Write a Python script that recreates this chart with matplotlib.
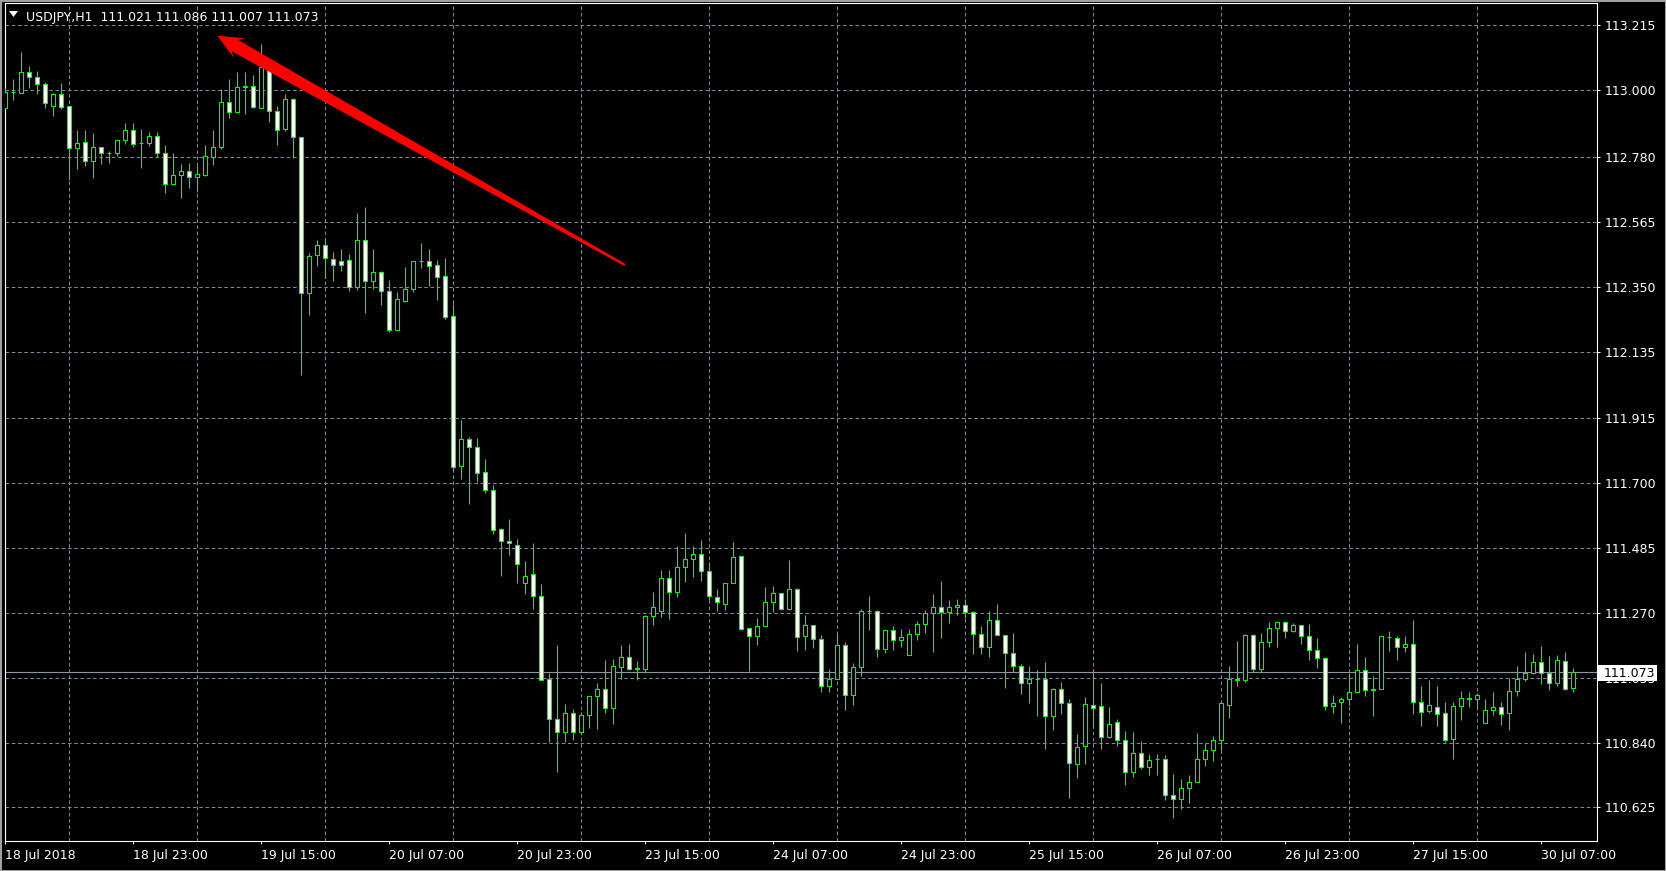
import matplotlib
matplotlib.use("Agg")
import matplotlib.pyplot as plt
import numpy as np
from matplotlib.patches import Polygon, Rectangle

# USDJPY H1 candles, 18 Jul 07:00 .. 30 Jul 11:00
opens = [112.941, 112.994, 112.990, 113.062, 113.043, 113.020, 112.950, 112.987, 112.947, 112.808,
         112.828, 112.765, 112.812, 112.794, 112.794, 112.835, 112.868, 112.825, 112.827, 112.848,
         112.792, 112.689, 112.719, 112.734, 112.712, 112.721, 112.778, 112.812, 112.963, 112.927,
         113.010, 113.014, 112.941, 113.067, 112.932, 112.872, 112.970, 112.847, 112.329, 112.456,
         112.487, 112.442, 112.434, 112.437, 112.350, 112.503, 112.370, 112.397, 112.335, 112.208,
         112.303, 112.341, 112.434, 112.434, 112.423, 112.384, 112.254, 111.757, 111.847, 111.820,
         111.735, 111.676, 111.546, 111.506, 111.496, 111.370, 111.398, 111.324, 111.049, 110.917,
         110.876, 110.937, 110.876, 110.930, 110.995, 111.016, 110.955, 111.089, 111.125, 111.085,
         111.085, 111.258, 111.277, 111.384, 111.340, 111.420, 111.447, 111.466, 111.407, 111.323,
         111.300, 111.367, 111.457, 111.218, 111.194, 111.225, 111.304, 111.334, 111.282, 111.347,
         111.194, 111.228, 111.184, 111.029, 111.050, 111.162, 110.997, 111.090, 111.275, 111.275,
         111.149, 111.212, 111.179, 111.131, 111.199, 111.232, 111.268, 111.288, 111.272, 111.288,
         111.295, 111.272, 111.199, 111.156, 111.245, 111.195, 111.136, 111.093, 111.037, 111.049,
         111.050, 110.927, 111.017, 110.970, 110.768, 110.827, 110.966, 110.960, 110.860, 110.907,
         110.850, 110.741, 110.807, 110.758, 110.785, 110.787, 110.665, 110.654, 110.688, 110.708,
         110.787, 110.817, 110.850, 110.966, 111.048, 111.046, 111.195, 111.084, 111.172, 111.220,
         111.238, 111.211, 111.231, 111.192, 111.148, 111.119, 110.960, 110.973, 110.983, 111.006,
         111.082, 111.019, 111.019, 111.189, 111.188, 111.155, 111.165, 110.973, 110.943, 110.957,
         110.937, 110.851, 110.960, 110.985, 110.985, 110.904, 110.947, 110.957, 110.937, 111.010,
         111.049, 111.072, 111.106, 111.072, 111.036, 111.109, 111.021]
highs = [113.007, 113.038, 113.126, 113.081, 113.064, 113.027, 112.993, 113.026, 112.947, 112.869,
         112.869, 112.859, 112.812, 112.799, 112.835, 112.892, 112.891, 112.872, 112.861, 112.861,
         112.818, 112.792, 112.756, 112.759, 112.752, 112.818, 112.869, 113.004, 113.037, 113.060,
         113.060, 113.050, 113.154, 113.090, 112.948, 112.988, 112.974, 112.847, 112.460, 112.503,
         112.511, 112.466, 112.475, 112.457, 112.593, 112.614, 112.475, 112.402, 112.372, 112.333,
         112.415, 112.434, 112.495, 112.475, 112.439, 112.445, 112.291, 111.908, 111.851, 111.849,
         111.778, 111.693, 111.550, 111.580, 111.513, 111.440, 111.501, 111.365, 111.071, 111.163,
         110.967, 110.951, 110.941, 110.993, 111.037, 111.113, 111.117, 111.163, 111.166, 111.110,
         111.261, 111.338, 111.411, 111.413, 111.491, 111.534, 111.491, 111.511, 111.437, 111.348,
         111.367, 111.504, 111.457, 111.221, 111.252, 111.354, 111.358, 111.334, 111.444, 111.352,
         111.262, 111.228, 111.195, 111.084, 111.200, 111.173, 111.104, 111.283, 111.326, 111.279,
         111.212, 111.226, 111.216, 111.216, 111.242, 111.278, 111.332, 111.375, 111.313, 111.315,
         111.315, 111.275, 111.226, 111.275, 111.299, 111.195, 111.203, 111.099, 111.093, 111.080,
         111.107, 111.021, 111.041, 110.984, 110.869, 110.991, 111.079, 111.037, 110.957, 110.918,
         110.878, 110.874, 110.845, 110.802, 110.803, 110.799, 110.736, 110.719, 110.731, 110.871,
         110.838, 110.861, 110.970, 111.095, 111.175, 111.198, 111.201, 111.203, 111.238, 111.238,
         111.241, 111.235, 111.231, 111.232, 111.188, 111.122, 110.996, 110.991, 111.069, 111.166,
         111.123, 111.062, 111.192, 111.208, 111.193, 111.192, 111.245, 111.026, 111.046, 111.026,
         110.976, 110.976, 111.011, 111.006, 111.005, 110.983, 111.006, 110.976, 111.053, 111.092,
         111.139, 111.135, 111.159, 111.127, 111.129, 111.140, 111.086]
lows = [112.938, 112.968, 112.990, 113.009, 112.987, 112.943, 112.916, 112.938, 112.703, 112.740,
        112.750, 112.711, 112.757, 112.759, 112.784, 112.824, 112.814, 112.744, 112.816, 112.778,
        112.661, 112.686, 112.642, 112.678, 112.662, 112.717, 112.754, 112.807, 112.910, 112.924,
        112.921, 112.941, 112.941, 112.894, 112.819, 112.867, 112.777, 112.058, 112.257, 112.419,
        112.379, 112.369, 112.402, 112.335, 112.338, 112.262, 112.341, 112.289, 112.200, 112.208,
        112.300, 112.333, 112.412, 112.352, 112.306, 112.243, 111.740, 111.712, 111.631, 111.703,
        111.667, 111.532, 111.393, 111.462, 111.369, 111.333, 111.283, 111.046, 110.843, 110.743,
        110.843, 110.848, 110.873, 110.888, 110.886, 110.939, 110.902, 111.051, 111.081, 111.048,
        111.073, 111.229, 111.257, 111.249, 111.322, 111.373, 111.389, 111.376, 111.312, 111.277,
        111.280, 111.367, 111.213, 111.078, 111.163, 111.225, 111.273, 111.280, 111.279, 111.143,
        111.146, 111.154, 111.006, 111.006, 111.050, 110.949, 110.966, 111.062, 111.214, 111.122,
        111.138, 111.145, 111.156, 111.131, 111.180, 111.204, 111.141, 111.188, 111.237, 111.263,
        111.251, 111.135, 111.135, 111.122, 111.195, 111.022, 111.073, 111.002, 110.972, 110.929,
        110.820, 110.883, 110.933, 110.655, 110.724, 110.770, 110.892, 110.820, 110.854, 110.829,
        110.700, 110.727, 110.754, 110.733, 110.733, 110.649, 110.590, 110.620, 110.640, 110.708,
        110.763, 110.780, 110.814, 110.923, 111.028, 111.039, 111.075, 111.075, 111.158, 111.158,
        111.185, 111.207, 111.168, 111.115, 111.088, 110.949, 110.939, 110.906, 110.966, 111.006,
        110.995, 110.929, 111.019, 111.144, 111.115, 111.141, 110.933, 110.896, 110.937, 110.896,
        110.841, 110.787, 110.916, 110.957, 110.951, 110.904, 110.932, 110.899, 110.880, 110.995,
        111.045, 111.066, 111.033, 111.013, 111.029, 111.013, 111.007]
closes = [112.994, 112.995, 113.060, 113.043, 113.020, 112.957, 112.987, 112.946, 112.808, 112.825,
          112.765, 112.812, 112.792, 112.794, 112.835, 112.868, 112.824, 112.825, 112.848, 112.792,
          112.689, 112.719, 112.732, 112.712, 112.722, 112.782, 112.814, 112.963, 112.927, 113.010,
          113.014, 112.944, 113.076, 112.932, 112.869, 112.970, 112.847, 112.329, 112.453, 112.487,
          112.446, 112.423, 112.423, 112.350, 112.503, 112.370, 112.397, 112.335, 112.208, 112.308,
          112.341, 112.434, 112.435, 112.420, 112.383, 112.251, 111.754, 111.847, 111.820, 111.734,
          111.676, 111.544, 111.509, 111.500, 111.432, 111.393, 111.324, 111.048, 110.917, 110.876,
          110.937, 110.876, 110.930, 110.993, 111.019, 110.955, 111.092, 111.125, 111.085, 111.086,
          111.258, 111.288, 111.384, 111.340, 111.420, 111.447, 111.466, 111.407, 111.326, 111.304,
          111.367, 111.453, 111.217, 111.194, 111.225, 111.304, 111.334, 111.282, 111.347, 111.190,
          111.228, 111.184, 111.029, 111.050, 111.162, 110.997, 111.090, 111.275, 111.276, 111.149,
          111.212, 111.179, 111.189, 111.199, 111.232, 111.268, 111.288, 111.272, 111.288, 111.295,
          111.272, 111.199, 111.156, 111.245, 111.195, 111.136, 111.092, 111.037, 111.050, 111.050,
          110.927, 111.018, 110.970, 110.772, 110.825, 110.967, 110.956, 110.860, 110.903, 110.850,
          110.741, 110.807, 110.758, 110.781, 110.786, 110.665, 110.654, 110.688, 110.708, 110.787,
          110.817, 110.850, 110.970, 111.049, 111.049, 111.195, 111.084, 111.172, 111.218, 111.238,
          111.208, 111.231, 111.192, 111.148, 111.119, 110.960, 110.970, 110.983, 111.006, 111.082,
          111.013, 111.013, 111.192, 111.190, 111.155, 111.165, 110.973, 110.940, 110.963, 110.933,
          110.847, 110.960, 110.986, 110.986, 110.996, 110.947, 110.957, 110.933, 111.010, 111.049,
          111.072, 111.106, 111.072, 111.036, 111.112, 111.019, 111.073]

time_labels = ["18 Jul 2018", "18 Jul 23:00", "19 Jul 15:00", "20 Jul 07:00", "20 Jul 23:00",
               "23 Jul 15:00", "24 Jul 07:00", "24 Jul 23:00", "25 Jul 15:00", "26 Jul 07:00",
               "26 Jul 23:00", "27 Jul 15:00", "30 Jul 07:00"]
price_levels = [113.215, 113.000, 112.780, 112.565, 112.350, 112.135, 111.915, 111.700,
                111.485, 111.270, 111.055, 110.840, 110.625]
bid = 111.073
header = "USDJPY,H1  111.021 111.086 111.007 111.073"

W, H = 1666, 871
LIME = "#00ff00"
GRID = "#778899"

plt.rcParams["font.family"] = "DejaVu Sans"
plt.rcParams["font.size"] = 9

fig = plt.figure(figsize=(W / 100, H / 100), dpi=100, facecolor="black")
ax = fig.add_axes([4.5 / W, (H - 841) / H, (1596.5 - 4.5) / W, (841 - 3) / H])
ax.set_facecolor("black")

o = np.array(opens)
hi = np.array(highs)
lo = np.array(lows)
c = np.array(closes)
x = np.arange(len(o))
up = c >= o

# wicks then bodies (bull = black body, bear = white body)
ax.vlines(x, lo, hi, color=LIME, lw=0.8, zorder=3)
ax.bar(x, np.abs(c - o), bottom=np.minimum(o, c), width=0.5,
       color=np.where(up, "black", "white"), edgecolor=LIME, linewidth=0.8, zorder=4)

ax.axhline(bid, color="#8a96a4", lw=0.8, zorder=2)

ax.set_xlim(-0.104, 198.9)
ax.set_ylim(110.514, 113.2895)

# ticks / grid
ax.set_xticks(np.arange(0, 16 * len(time_labels), 16))
ax.set_xticklabels(time_labels, ha="left")
ax.set_xticks(np.arange(8, 199, 8), minor=True)
ax.set_yticks(price_levels)
ax.set_yticklabels(["%.3f" % p for p in price_levels])
ax.yaxis.tick_right()
ax.tick_params(axis="both", which="major", colors="white", length=2.2, width=0.8, labelsize=9)
ax.tick_params(axis="x", which="major", pad=3.5)
ax.tick_params(axis="y", which="major", pad=4)
ax.tick_params(axis="x", which="minor", length=0)
ax.grid(True, axis="x", which="minor", color=GRID, lw=0.75, ls=(0, (3.5, 2.5)))
ax.grid(True, axis="y", which="major", color=GRID, lw=0.75, ls=(0, (3.5, 2.5)))
ax.set_axisbelow(True)
for s in ax.spines.values():
    s.set_color("white")
    s.set_linewidth(0.8)

# bid price box on the right scale (covers the 111.055 level label, as in MT4)
fig.patches.append(Rectangle((1597 / W, (H - 681) / H), 60 / W, 16 / H,
                             transform=fig.transFigure, fc="white", ec="none", zorder=5))
fig.text(1604 / W, (H - 673) / H, "%.3f" % bid, color="black", fontsize=9,
         va="center", ha="left", zorder=6)

# header
fig.patches.append(Polygon([(9 / W, (H - 11) / H), (18 / W, (H - 11) / H), (13.5 / W, (H - 17) / H)],
                           closed=True, transform=fig.transFigure, fc="white", ec="none", zorder=5))
fig.text(26.5 / W, (H - 20.5) / H, header, color="white", fontsize=9, va="baseline", ha="left")

# red arrow (image pixel coords, y down)
tip = np.array([217.3, 35.7])
tail = np.array([625.0, 265.0])
u = (tail - tip) / np.linalg.norm(tail - tip)
n = np.array([-u[1], u[0]])
L = np.linalg.norm(tail - tip)
shape = [(0, 0), (26, -11.5), (20, -6.5), (L, -1.2), (L, 1.2), (20, 6.5), (26, 11.5)]
pts = []
for a, b in shape:
    p = tip + u * a + n * b
    pts.append((p[0] / W, (H - p[1]) / H))
fig.patches.append(Polygon(pts, closed=True, transform=fig.transFigure, fc="#ff0000", ec="none", zorder=7))

# window border
fig.patches.append(Rectangle((0, 0), 1, 1, transform=fig.transFigure, fill=False,
                             ec="#a0a0a0", lw=2.2, zorder=8))

fig.savefig("out.png", dpi=100, facecolor="black")
